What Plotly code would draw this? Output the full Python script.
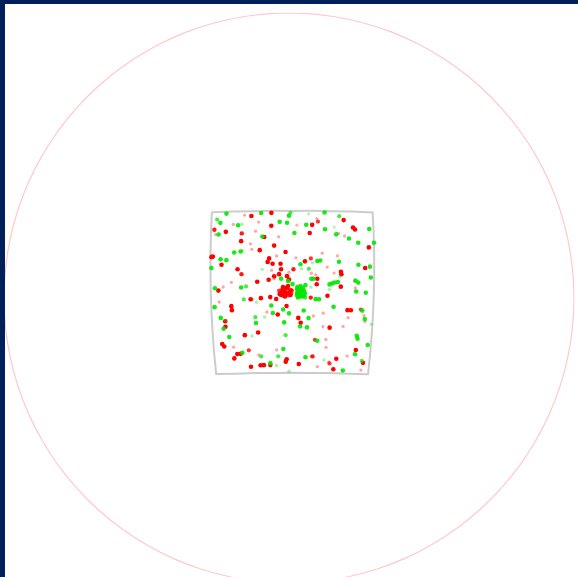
import plotly.graph_objects as go

# ---- data (lon, lat, intensity) ----
red_lon = [-9.8, -8.4, -4.3, 5.0, 5.2, 10.5, -12.1, -4.3, -6.9, 0.9, 4.0, 12.4, 12.8, 9.4, -16.0, -15.7,
           -13.6, -10.3, -5.7, -7.5, -2.8, 3.5, 10.6, 15.6, -3.7, -10.4, -8.5, -6.6, -8.2, -1.4, -16.2, -16.5,
           -14.4, -4.7, -5.0, -4.0, -2.4, -3.2, 0.7, 2.5, 3.7, 6.0, 9.1, 7.0, 14.8, -11.1, -3.7, -2.7, -3.7,
           -2.3, -4.2, -10.3, 0.2, -0.7, 8.4, 9.8, 9.9, 3.8, 5.0, 4.7, -4.8, -0.7, -1.1, -7.3, 12.7, -15.1,
           -14.1, -12.4, -7.1, -1.9, -1.6, -1.1, -2.3, -0.7, -1.4, -2.6, -0.4, -1.9, -0.9, -0.2, 9.8, 4.9,
           12.8, 7.1, 3.7, -3.3, -8.5, -8.2, -6.4, -4.5, -15.0, -12.5, -12.4, -1.2, 11.3, 12.0, 14.1, -3.0,
           -5.2, 6.3, 4.3, 1.2, 14.8, 15.1, 11.5, -13.9, -13.9, 1.7, 7.7, 10.5, 6.3, -9.9, -7.1, 4.7, 7.0,
           -14.8, -14.4, -12.4, -11.7, -11.0, -9.2, -3.3, 7.1, 13.5, 11.7, -12.4, -7.1, -1.2, -1.4, 4.0, 4.3,
           8.0, 9.4, 7.8, 15.3, -8.9, -6.8, -6.1, -4.7, 1.4, 5.4, 8.9, 15.0,
           -2.0, -1.4, -1.8, -1.1, -0.5, -2.3, -0.8, -1.5, -0.2, -2.7]
red_lat = [10.2, 10.0, 10.6, 9.4, 8.8, 9.2, 8.3, 7.9, 8.7, 8.0, 8.1, 7.7, 7.3, 6.4, 7.3, 6.3,
           6.8, 6.4, 5.6, 6.8, 5.6, 6.4, 5.9, 3.7, 3.8, 4.8, 4.2, 2.9, 3.1, 2.5, 1.8, 1.7,
           0.1, 1.2, 0.5, 0.1, 0.1, 1.7, 1.3, 0.6, 1.2, 2.3, 1.8, -0.5, -0.5, -0.9, -2.4, -2.0, -2.9,
           -1.0, -1.2, -1.9, -1.0, -1.6, -1.7, -1.4, -1.9, -1.8, -2.9, -2.1, -3.1, -3.1, -2.4, -3.5, -3.3, -5.1,
           -4.4, -3.5, -3.5, -4.6, -5.3, -4.8, -5.7, -5.7, -6.0, -6.0, -6.2, -6.3, -4.4, -5.3, -4.4, -4.0,
           -4.6, -6.3, -6.7, -7.0, -7.0, -7.0, -6.8, -6.6, -7.4, -8.3, -9.1, -8.4, -9.1, -9.1, -8.9, -10.1,
           -9.6, -9.8, -10.4, -10.8, -10.1, -11.3, -10.6, -11.3, -12.4, -11.8, -12.7, -12.4, -12.5, -14.2, -13.7, -15.2, -15.1,
           -15.9, -16.4, -16.6, -18.0, -18.0, -17.3, -17.3, -16.7, -17.1, -18.4, -18.9, -18.3, -19.2, -19.7, -18.6, -18.6,
           -20.0, -19.0, -19.7, -19.7, -20.7, -20.4, -20.4, -20.4, -20.2, -20.7, -21.2, -21.2,
           -5.0, -4.8, -5.5, -5.8, -5.1, -6.2, -6.3, -6.5, -5.9, -5.3]
red_level = [0.35, 1, 1, 0.35, 0.8, 1, 0.35, 1, 0.35, 0.3, 1, 1, 1, 0.35, 0.9, 0.35,
             1, 0.9, 1, 0.35, 0.35, 1, 0.35, 1, 1, 1, 0.35, 1, 0.35, 1, 1, 1,
             1, 1, 1, 1, 1, 0.35, 0.35, 1, 0.8, 0.35, 0.35, 0.35, 1, 1, 1, 1, 0.4,
             1, 0.35, 0.9, 0.9, 0.35, 0.35, 1, 1, 0.35, 1, 0.35, 1, 1, 1, 0.35, 0.35, 1,
             0.35, 0.35, 1, 1, 1, 1, 1, 1, 1, 1, 1, 1, 1, 1, 1, 1,
             0.35, 1, 0.9, 1, 1, 0.4, 1, 1, 0.35, 1, 1, 1, 1, 1, 0.8, 1,
             0.35, 0.35, 0.35, 1, 0.35, 0.35, 0.35, 1, 1, 1, 1, 0.35, 0.35, 1, 1, 0.8, 0.35,
             1, 1, 0.35, 1, 1, 0.8, 0.35, 0.35, 1, 0.35, 1, 0.35, 1, 1, 0.35, 0.9,
             0.8, 1, 0.35, 1, 1, 1, 1, 1, 1, 0.35, 1, 0.35,
             1, 1, 1, 1, 0.8, 1, 0.8, 1, 0.7, 0.8]

green_lon = [-13.6, -6.4, -0.7, -0.4, 3.3, 6.6, 9.6, -15.5, -14.8, -11.1, -10.3, -2.6, -1.1, 2.8, 6.6, 8.5,
             15.8, -15.1, -6.1, 0.4, 8.9, 11.5, 13.4, 16.7, -11.8, -10.5, -10.1, -14.6, -13.4, 1.6, 1.8, 4.0,
             5.0, 5.6, 9.4, 13.4, 15.8, -16.5, -6.1, 3.3, 9.6, 3.8, 4.2, -2.3, -0.9, 12.8, 13.4, 16.0,
             -15.8, -10.4, -9.4, 0.0, 0.9, 1.6, 2.3, 1.2, 1.9, 1.6, 2.4, 0.9, 2.6, 7.5, 8.0, 8.5, 9.2,
             3.7, 7.5, 13.0, 15.0, 4.7, 5.4, -7.3, -9.9, -16.0, -4.3, -1.9, 8.4, 14.4, 2.3, -4.0, -0.7,
             -5.7, -7.6, -7.5, 3.3, 15.0, -14.8, -13.7, -14.3, -1.7, 1.6, 3.0, 16.5, -8.4, -13.2, -1.4,
             5.2, 13.5, 13.7, 16.0, -10.6, -1.9, 13.4, -6.6, -3.0, 2.8, 6.8, 15.0, -4.7, -3.4, 11.0, -0.7,
             1.0, 1.6, 2.1, 1.2, 1.8, 2.5, 0.9, 1.4, 2.1, 2.6, 1.1]
green_lat = [10.6, 10.6, 10.0, 10.6, 10.4, 10.7, 10.0, 9.4, 8.7, 8.1, 8.3, 8.7, 8.5, 8.1, 7.2, 7.7,
             7.5, 6.3, 5.7, 6.4, 6.2, 5.4, 4.6, 4.7, 2.5, 2.7, 2.9, 1.2, 1.0, 0.0, -0.9, 0.3,
             0.7, 0.8, 0.6, 0.1, -0.2, -0.5, -1.0, -0.9, -2.4, -2.9, -2.9, -2.9, -3.4, -3.1, -3.5, -2.4,
             -4.6, -4.6, -4.4, -4.0, -5.0, -5.0, -5.3, -5.7, -5.8, -6.5, -6.2, -6.2, -4.2, -4.0, -3.8, -3.6, -3.5,
             -4.6, -5.0, -5.3, -5.5, -7.0, -7.0, -7.6, -7.0, -8.4, -8.3, -9.1, -8.5, -9.1, -9.3, -9.8, -9.9,
             -10.6, -10.6, -11.8, -10.8, -10.8, -10.6, -11.1, -12.8, -11.7, -12.5, -12.7, -11.8, -14.4, -14.5, -14.3,
             -15.4, -14.2, -14.8, -16.0, -17.8, -17.1, -18.0, -18.6, -18.6, -18.8, -19.3, -19.3, -20.0, -20.5, -21.4, -21.7,
             -4.6, -4.4, -4.8, -5.3, -5.4, -5.8, -5.8, -6.2, -6.5, -6.7, -6.7]
green_level = [1, 1, 1, 0.8, 0.35, 1, 0.8, 0.8, 1, 1, 0.4, 1, 1, 1, 1, 0.35,
               1, 1, 1, 1, 1, 1, 1, 1, 1, 1, 0.4, 1, 1, 1, 0.4, 0.4,
               1, 1, 1, 1, 1, 1, 0.4, 0.8, 0.4, 1, 1, 1, 1, 1, 1, 1,
               1, 1, 0.8, 1, 1, 1, 1, 1, 1, 1, 1, 1, 1, 1, 1, 1, 1,
               0.4, 0.4, 1, 1, 1, 1, 0.4, 0.8, 1, 1, 1, 1, 1, 1, 1, 1,
               0.4, 0.8, 1, 1, 1, 1, 0.4, 1, 1, 1, 1, 0.4, 0.4, 1, 0.8,
               1, 1, 1, 1, 1, 1, 1, 0.8, 0.8, 1, 0.4, 0.8, 1, 0.4, 1, 0.4,
               1, 1, 1, 1, 1, 1, 1, 1, 1, 0.8, 1]

# outline of the sampled region (corner and edge vertices, lon / lat)
box_lon = [-16.7, -8.0, 0.0, 8.0, 16.7, 16.7, 8.0, 0.0, -8.0, -16.7, -16.7]
box_lat = [11.0, 11.0, 11.0, 11.0, 11.0, -22.0, -22.0, -22.0, -22.0, -22.0, 11.0]

NAVY = "#00205b"
W, H = 578, 583
ML, MR, MT, MB = 4, 4, 13, 0
pw, ph = W - ML - MR, H - MT - MB


def px_x(x):
    return (x - ML) / pw


def px_y(y):
    return (H - MB - y) / ph


fig = go.Figure()
fig.add_trace(go.Scattergeo(lon=box_lon, lat=box_lat, mode="lines",
                            line=dict(color="#cccccc", width=2), hoverinfo="skip"))
fig.add_trace(go.Scattergeo(lon=red_lon, lat=red_lat, mode="markers",
                            marker=dict(color="#ff0000", size=[2.6 + 2.0 * v for v in red_level],
                                        opacity=red_level, line=dict(width=0))))
fig.add_trace(go.Scattergeo(lon=green_lon, lat=green_lat, mode="markers",
                            marker=dict(color="#00e600", size=[2.6 + 2.0 * v for v in green_level],
                                        opacity=[0.9 * v for v in green_level], line=dict(width=0))))

fig.update_geos(
    projection=dict(type="orthographic", rotation=dict(lon=-0.7, lat=-6.8)),
    lonaxis=dict(showgrid=False), lataxis=dict(showgrid=False),
    showframe=True, framecolor="#ffc8cc", framewidth=1.2,
    showcoastlines=False, showland=False, showocean=False, showcountries=False,
    showlakes=False, showrivers=False,
    bgcolor="white",
)
fig.update_layout(
    width=W, height=H, margin=dict(l=ML, r=MR, t=MT, b=MB),
    paper_bgcolor="white", showlegend=False,
    shapes=[
        dict(type="rect", xref="paper", yref="paper", layer="above",
             x0=px_x(0), x1=px_x(5), y0=px_y(H), y1=px_y(0),
             fillcolor=NAVY, line=dict(width=0)),
        dict(type="rect", xref="paper", yref="paper", layer="above",
             x0=px_x(0), x1=px_x(W), y0=px_y(4), y1=px_y(0),
             fillcolor=NAVY, line=dict(width=0)),
    ],
)
fig.write_html("out.html", config={"displayModeBar": False},
               post_script="document.body.style.margin='0px';document.body.style.overflow='hidden';")
